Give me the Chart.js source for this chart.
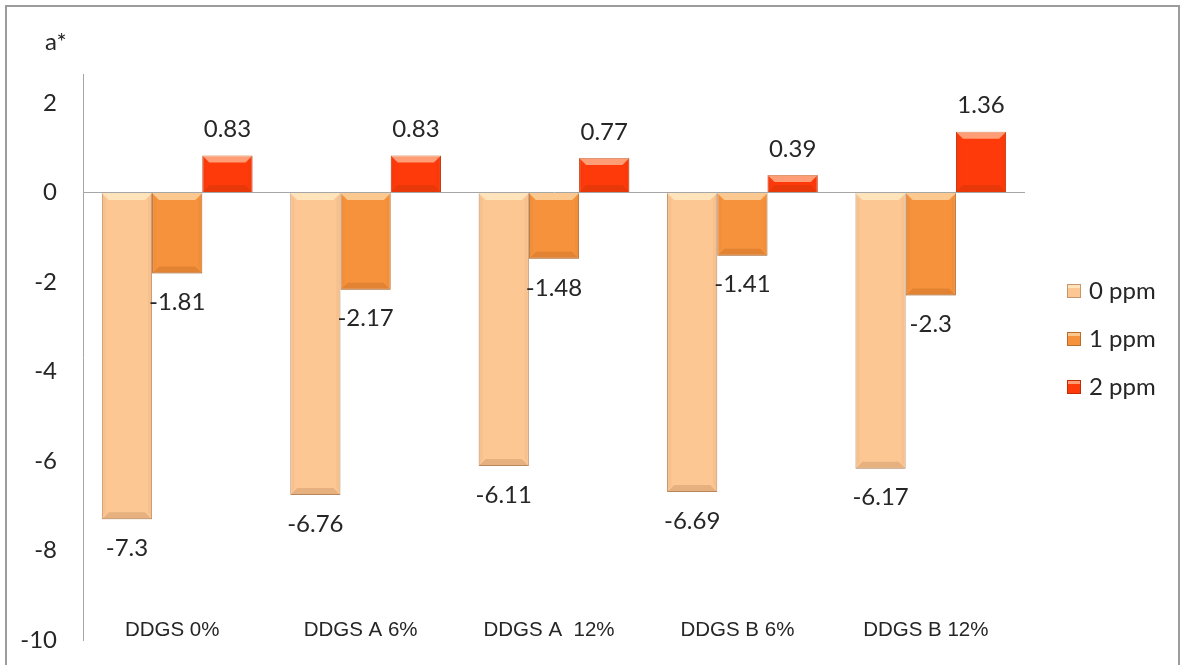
<!DOCTYPE html>
<html>
<head>
<meta charset="utf-8">
<script src="https://cdn.jsdelivr.net/npm/chart.js@4"></script>
<style>
  html, body { margin: 0; padding: 0; background: #fff; }
  #wrap { position: relative; width: 1184px; height: 665px; overflow: hidden; }
  #frame { position: absolute; left: 5px; top: 5px; width: 1175px; height: 700px; border: 2px solid #9c9c9c; pointer-events: none; box-sizing: border-box; }
  canvas { position: absolute; left: 0; top: 0; }
</style>
</head>
<body>
<div id="wrap">
  <canvas id="c" width="1184" height="665"></canvas>
  <div id="frame"></div>
</div>
<script>
const categories = ['DDGS 0%', 'DDGS A 6%', 'DDGS A  12%', 'DDGS B 6%', 'DDGS B 12%'];
const seriesNames = ['0 ppm', '1 ppm', '2 ppm'];
const ppm0 = [-7.3, -6.76, -6.11, -6.69, -6.17];
const ppm1 = [-1.81, -2.17, -1.48, -1.41, -2.3];
const ppm2 = [0.83, 0.83, 0.77, 0.39, 1.36];
const yTicks = [2, 0, -2, -4, -6, -8, -10];
const axisTitle = 'a*';

const fills = ['#FDC794', '#F7923C', '#FF3A0A'];
const borders = ['#c8956a', '#b96d2c', '#c22c02'];
const valueFont = '24px Lato';
const catFont = '20.5px "Liberation Sans"';
const textColor = '#262626';

const bevelPlugin = {
  id: 'bevel',
  afterDatasetsDraw(chart) {
    const ctx = chart.ctx;
    ctx.save();
    chart.data.datasets.forEach((ds, di) => {
      const meta = chart.getDatasetMeta(di);
      meta.data.forEach((bar) => {
        const w = bar.width;
        const l = bar.x - w / 2, r = bar.x + w / 2;
        const t = Math.min(bar.y, bar.base), b = Math.max(bar.y, bar.base);
        const h = b - t;
        const e = Math.min(7, h / 2, w / 2);
        ctx.fillStyle = 'rgba(255,255,225,0.5)';
        ctx.beginPath();
        ctx.moveTo(l, t); ctx.lineTo(r, t); ctx.lineTo(r - e, t + e); ctx.lineTo(l + e, t + e); ctx.closePath();
        ctx.fill();
        ctx.fillStyle = 'rgba(90,40,0,0.14)';
        ctx.beginPath();
        ctx.moveTo(l, b); ctx.lineTo(r, b); ctx.lineTo(r - e, b - e); ctx.lineTo(l + e, b - e); ctx.closePath();
        ctx.fill();
        ctx.fillStyle = 'rgba(90,40,0,0.04)';
        ctx.beginPath();
        ctx.moveTo(l, t); ctx.lineTo(l + e * 0.6, t + e); ctx.lineTo(l + e * 0.6, b - e); ctx.lineTo(l, b); ctx.closePath();
        ctx.fill();
        ctx.beginPath();
        ctx.moveTo(r, t); ctx.lineTo(r - e * 0.6, t + e); ctx.lineTo(r - e * 0.6, b - e); ctx.lineTo(r, b); ctx.closePath();
        ctx.fill();
      });
    });
    ctx.restore();
  }
};

const labelPlugin = {
  id: 'valueLabels',
  afterDatasetsDraw(chart) {
    const ctx = chart.ctx;
    ctx.save();
    ctx.font = valueFont;
    ctx.fillStyle = textColor;
    ctx.textAlign = 'center';
    ctx.textBaseline = 'middle';
    chart.data.datasets.forEach((ds, di) => {
      const meta = chart.getDatasetMeta(di);
      meta.data.forEach((bar, i) => {
        const v = ds.data[i];
        const y = v < 0 ? bar.y + 29 : bar.y - 26;
        ctx.fillText(String(v), bar.x, y);
      });
    });
    const xs = chart.scales.x;
    ctx.font = catFont;
    chart.data.labels.forEach((lab, i) => {
      ctx.fillText(lab, xs.getPixelForTick(i) - 5, chart.chartArea.bottom - 10);
    });
    ctx.restore();
  }
};

const legendPlugin = {
  id: 'sideLegend',
  afterDraw(chart) {
    const ctx = chart.ctx;
    const ca = chart.chartArea;
    ctx.save();
    ctx.font = valueFont;
    ctx.textBaseline = 'alphabetic';
    ctx.textAlign = 'left';
    chart.data.datasets.forEach((ds, di) => {
      const base = 299 + di * 48;
      const sx = 1067;
      ctx.fillStyle = ds.backgroundColor;
      ctx.fillRect(sx, base - 15, 14, 14);
      ctx.fillStyle = 'rgba(255,255,225,0.5)';
      ctx.fillRect(sx + 1, base - 14, 12, 3);
      ctx.strokeStyle = ds.borderColor;
      ctx.lineWidth = 1;
      ctx.strokeRect(sx + 0.5, base - 14.5, 13, 13);
      ctx.fillStyle = textColor;
      ctx.fillText(ds.label, sx + 22, base);
    });
    ctx.textAlign = 'left';
    ctx.textBaseline = 'middle';
    ctx.fillText(axisTitle, ca.left - 38, 42);
    ctx.restore();
  }
};

const datasets = [ppm0, ppm1, ppm2].map((d, i) => ({
  label: seriesNames[i],
  data: d,
  backgroundColor: fills[i],
  borderColor: borders[i],
  borderWidth: 1,
  categoryPercentage: 0.8,
  barPercentage: 1.0
}));

function zeroPad(s) {
  s.paddingTop = 0; s.paddingBottom = 0; s.paddingLeft = 0; s.paddingRight = 0;
}

new Chart(document.getElementById('c'), {
  type: 'bar',
  data: { labels: categories, datasets },
  options: {
    responsive: false,
    animation: false,
    layout: { autoPadding: false, padding: { top: 74, right: 159, left: 0, bottom: 0 } },
    plugins: { legend: { display: false }, tooltip: { enabled: false } },
    scales: {
      x: {
        grid: { display: false, drawTicks: false },
        border: { display: false },
        ticks: { display: false },
        afterFit(s) { s.height = 25; zeroPad(s); }
      },
      y: {
        min: -10,
        max: 2.65,
        afterBuildTicks(s) { s.ticks = yTicks.map(v => ({ value: v })); },
        grid: {
          drawTicks: false,
          color: c => (c.tick && c.tick.value === 0) ? '#a6a6a6' : 'rgba(0,0,0,0)',
          lineWidth: 1
        },
        border: { display: true, color: '#a6a6a6', width: 1 },
        ticks: {
          font: { family: 'Lato', size: 24 },
          color: textColor,
          padding: 26
        },
        afterFit(s) { s.width = 83; zeroPad(s); }
      }
    }
  },
  plugins: [bevelPlugin, labelPlugin, legendPlugin]
});
</script>
</body>
</html>
